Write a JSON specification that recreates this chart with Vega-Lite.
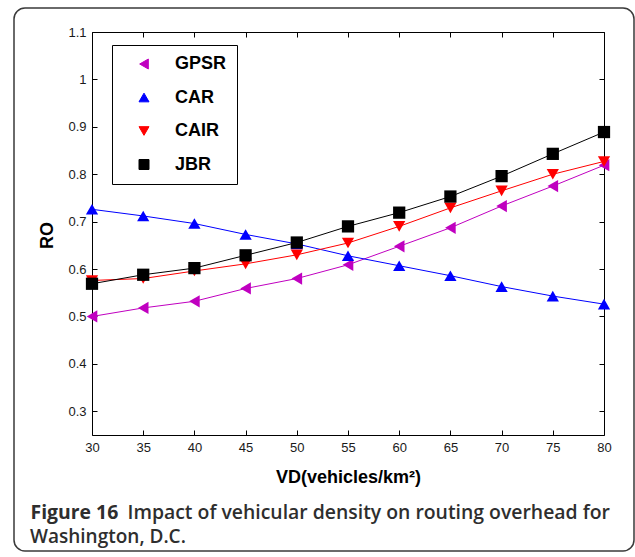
{
  "$schema": "https://vega.github.io/schema/vega-lite/v6.json",
  "width": 620,
  "height": 543,
  "autosize": {"type": "none"},
  "padding": {"left": 14, "top": 8, "right": 1, "bottom": 6},
  "background": "white",
  "view": {"stroke": "#3a3a3a", "strokeWidth": 1.5, "cornerRadius": 11},
  "title": {
    "text": "Washington, D.C.",
    "orient": "bottom",
    "anchor": "start",
    "frame": "group",
    "baseline": "alphabetic",
    "offset": -8,
    "dx": 16,
    "font": "Open Sans",
    "fontSize": 19,
    "fontWeight": 600,
    "color": "#2e2e2e"
  },
  "data": {
    "values": [
      {"VD": 30, "RO": 0.500, "protocol": "GPSR"},
      {"VD": 35, "RO": 0.518, "protocol": "GPSR"},
      {"VD": 40, "RO": 0.532, "protocol": "GPSR"},
      {"VD": 45, "RO": 0.559, "protocol": "GPSR"},
      {"VD": 50, "RO": 0.580, "protocol": "GPSR"},
      {"VD": 55, "RO": 0.609, "protocol": "GPSR"},
      {"VD": 60, "RO": 0.648, "protocol": "GPSR"},
      {"VD": 65, "RO": 0.687, "protocol": "GPSR"},
      {"VD": 70, "RO": 0.733, "protocol": "GPSR"},
      {"VD": 75, "RO": 0.775, "protocol": "GPSR"},
      {"VD": 80, "RO": 0.819, "protocol": "GPSR"},
      {"VD": 30, "RO": 0.726, "protocol": "CAR"},
      {"VD": 35, "RO": 0.712, "protocol": "CAR"},
      {"VD": 40, "RO": 0.696, "protocol": "CAR"},
      {"VD": 45, "RO": 0.673, "protocol": "CAR"},
      {"VD": 50, "RO": 0.653, "protocol": "CAR"},
      {"VD": 55, "RO": 0.628, "protocol": "CAR"},
      {"VD": 60, "RO": 0.607, "protocol": "CAR"},
      {"VD": 65, "RO": 0.586, "protocol": "CAR"},
      {"VD": 70, "RO": 0.563, "protocol": "CAR"},
      {"VD": 75, "RO": 0.543, "protocol": "CAR"},
      {"VD": 80, "RO": 0.526, "protocol": "CAR"},
      {"VD": 30, "RO": 0.576, "protocol": "CAIR"},
      {"VD": 35, "RO": 0.580, "protocol": "CAIR"},
      {"VD": 40, "RO": 0.596, "protocol": "CAIR"},
      {"VD": 45, "RO": 0.611, "protocol": "CAIR"},
      {"VD": 50, "RO": 0.630, "protocol": "CAIR"},
      {"VD": 55, "RO": 0.655, "protocol": "CAIR"},
      {"VD": 60, "RO": 0.690, "protocol": "CAIR"},
      {"VD": 65, "RO": 0.729, "protocol": "CAIR"},
      {"VD": 70, "RO": 0.765, "protocol": "CAIR"},
      {"VD": 75, "RO": 0.800, "protocol": "CAIR"},
      {"VD": 80, "RO": 0.827, "protocol": "CAIR"},
      {"VD": 30, "RO": 0.569, "protocol": "JBR"},
      {"VD": 35, "RO": 0.588, "protocol": "JBR"},
      {"VD": 40, "RO": 0.602, "protocol": "JBR"},
      {"VD": 45, "RO": 0.629, "protocol": "JBR"},
      {"VD": 50, "RO": 0.656, "protocol": "JBR"},
      {"VD": 55, "RO": 0.690, "protocol": "JBR"},
      {"VD": 60, "RO": 0.719, "protocol": "JBR"},
      {"VD": 65, "RO": 0.753, "protocol": "JBR"},
      {"VD": 70, "RO": 0.796, "protocol": "JBR"},
      {"VD": 75, "RO": 0.843, "protocol": "JBR"},
      {"VD": 80, "RO": 0.889, "protocol": "JBR"}
    ]
  },
  "layer": [
    {
      "mark": {"type": "line", "strokeWidth": 1, "clip": false},
      "encoding": {
        "x": {
          "field": "VD", "type": "quantitative",
          "scale": {"domain": [30, 80], "range": [78, 590], "nice": false, "zero": false},
          "axis": {
            "orient": "bottom", "offset": -116,
            "values": [30, 35, 40, 45, 50, 55, 60, 65, 70, 75, 80],
            "labelFlush": false, "ticks": false, "tickSize": 0, "labelPadding": 6,
            "title": "VD(vehicles/km²)",
            "titleAngle": 0, "titleX": 334, "titleY": 47,
            "titleAlign": "center", "titleBaseline": "alphabetic"
          }
        },
        "y": {
          "field": "RO", "type": "quantitative",
          "scale": {"domain": [0.25, 1.1], "range": [427, 24], "nice": false, "zero": false},
          "axis": {
            "orient": "left", "offset": -78,
            "values": [0.3, 0.4, 0.5, 0.6, 0.7, 0.8, 0.9, 1, 1.1],
            "format": "~g",
            "labelFlush": false, "ticks": false, "tickSize": 0, "labelPadding": 6,
            "title": "RO",
            "titleAngle": -90, "titleX": -40, "titleY": 227,
            "titleAlign": "center", "titleBaseline": "alphabetic"
          }
        },
        "color": {
          "field": "protocol", "type": "nominal",
          "scale": {"domain": ["GPSR", "CAR", "CAIR", "JBR"], "range": ["#c000c0", "#0000ff", "#ff0000", "#000000"]},
          "legend": {"orient": "none", "legendX": 98, "legendY": 37, "title": null}
        }
      }
    },
    {
      "transform": [{"filter": "datum.protocol === 'GPSR' || datum.protocol === 'CAR'"}],
      "mark": {"type": "point", "filled": true, "opacity": 1, "size": 150, "clip": false},
      "encoding": {
        "x": {
          "field": "VD", "type": "quantitative",
          "scale": {"domain": [30, 80], "range": [78, 590], "nice": false, "zero": false},
          "axis": {
            "orient": "top", "offset": -427,
            "values": [30, 35, 40, 45, 50, 55, 60, 65, 70, 75, 80],
            "labels": false, "domain": false, "ticks": true, "tickSize": 5,
            "title": "Figure 16",
            "titleAngle": 0, "titleX": 16, "titleY": 83,
            "titleAlign": "left", "titleBaseline": "alphabetic",
            "titleFont": "Open Sans", "titleFontSize": 19.4, "titleFontWeight": "bold", "titleColor": "#2e2e2e"
          }
        },
        "y": {
          "field": "RO", "type": "quantitative",
          "scale": {"domain": [0.25, 1.1], "range": [427, 24], "nice": false, "zero": false},
          "axis": {
            "orient": "right", "offset": -542,
            "values": [0.3, 0.4, 0.5, 0.6, 0.7, 0.8, 0.9, 1, 1.1],
            "labels": false, "domain": false, "ticks": true, "tickSize": 5,
            "title": "Impact of vehicular density on routing overhead for",
            "titleAngle": 0, "titleX": 35, "titleY": 510,
            "titleAlign": "left", "titleBaseline": "alphabetic",
            "titleFont": "Open Sans", "titleFontSize": 19.4, "titleFontWeight": 600, "titleColor": "#2e2e2e"
          }
        },
        "color": {
          "field": "protocol", "type": "nominal",
          "scale": {"domain": ["GPSR", "CAR", "CAIR", "JBR"], "range": ["#c000c0", "#0000ff", "#ff0000", "#000000"]},
          "legend": {"orient": "none", "legendX": 98, "legendY": 37, "title": null}
        },
        "shape": {
          "field": "protocol", "type": "nominal",
          "scale": {"domain": ["GPSR", "CAR", "CAIR", "JBR"], "range": ["triangle-left", "triangle-up", "triangle-down", "square"]},
          "legend": {"orient": "none", "legendX": 98, "legendY": 37, "title": null}
        }
      }
    },
    {
      "transform": [{"filter": "datum.protocol === 'CAIR' || datum.protocol === 'JBR'"}],
      "mark": {"type": "point", "filled": true, "opacity": 1, "size": 150, "clip": false},
      "encoding": {
        "x": {
          "field": "VD", "type": "quantitative",
          "scale": {"domain": [30, 80], "range": [78, 590], "nice": false, "zero": false},
          "axis": {
            "orient": "bottom", "offset": -519,
            "values": [30, 35, 40, 45, 50, 55, 60, 65, 70, 75, 80],
            "labels": false, "domain": true, "ticks": true, "tickSize": 5,
            "title": null
          }
        },
        "y": {
          "field": "RO", "type": "quantitative",
          "scale": {"domain": [0.25, 1.1], "range": [427, 24], "nice": false, "zero": false},
          "axis": {
            "orient": "left", "offset": -590,
            "values": [0.3, 0.4, 0.5, 0.6, 0.7, 0.8, 0.9, 1, 1.1],
            "labels": false, "domain": true, "ticks": true, "tickSize": 5,
            "title": null
          }
        },
        "color": {
          "field": "protocol", "type": "nominal",
          "scale": {"domain": ["GPSR", "CAR", "CAIR", "JBR"], "range": ["#c000c0", "#0000ff", "#ff0000", "#000000"]},
          "legend": {"orient": "none", "legendX": 98, "legendY": 37, "title": null}
        },
        "shape": {
          "field": "protocol", "type": "nominal",
          "scale": {"domain": ["GPSR", "CAR", "CAIR", "JBR"], "range": ["triangle-left", "triangle-up", "triangle-down", "square"]},
          "legend": {"orient": "none", "legendX": 98, "legendY": 37, "title": null}
        }
      }
    }
  ],
  "resolve": {"axis": {"x": "independent", "y": "independent"}},
  "config": {
    "axis": {
      "grid": false,
      "domainColor": "#000000",
      "domainWidth": 1,
      "tickColor": "#000000",
      "tickWidth": 1,
      "labelFont": "Liberation Sans",
      "labelFontSize": 13,
      "labelColor": "#1a1a1a",
      "titleFont": "Liberation Sans",
      "titleFontSize": 18,
      "titleFontWeight": "bold",
      "titleColor": "#000000"
    },
    "legend": {
      "strokeColor": "#000000",
      "strokeWidth": 1,
      "fillColor": "#ffffff",
      "padding": 10,
      "symbolSize": 100,
      "symbolOffset": 13,
      "labelOffset": 22,
      "rowPadding": 15.5,
      "labelFont": "Liberation Sans",
      "labelFontSize": 18,
      "labelFontWeight": "bold",
      "labelColor": "#000000",
      "symbolStrokeWidth": 1,
      "cornerRadius": 0,
      "symbolOpacity": 1
    }
  }
}
